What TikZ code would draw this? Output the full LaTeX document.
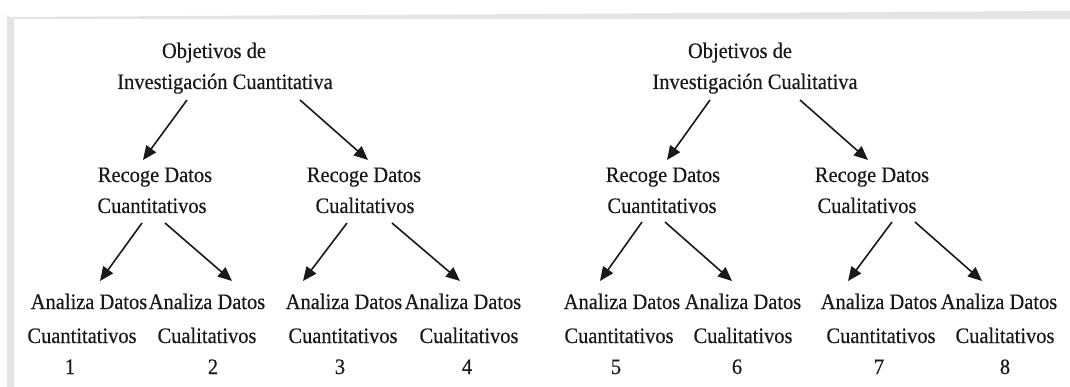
\documentclass[tikz,border=0pt]{standalone}
\usepackage{fontspec}
\setmainfont{Liberation Serif}[FakeStretch=0.93,FakeBold=0.4]
\usetikzlibrary{calc,arrows.meta}

\definecolor{framegray}{RGB}{228,228,228}
\definecolor{ink}{RGB}{25,25,25}

\tikzset{
  lbl/.style={anchor=base, inner sep=0pt, text=ink,
              font=\fontsize{22}{26}\selectfont},
  arr/.style={draw=ink, line width=1.6pt,
              -{Triangle[length=14pt,width=12pt]}}
}

\begin{document}
\begin{tikzpicture}[x=1pt,y=-1pt]
  % canvas and window frame
  \fill[white] (0,0) rectangle (1070,387);
  \useasboundingbox (0,0) rectangle (1070,387);
  \fill[framegray] (7,387) -- (7,14) arc[start angle=180,end angle=90,radius=3]
        -- (1070,11) -- (1070,19) -- (14,19) -- (14,387) -- cycle;

  % ---- quantitative research tree ----
  \node[lbl] (q1a) at (214,58) {Objetivos de};
  \node[lbl] (q1b) at (225,89) {Investigación Cuantitativa};

  \node[lbl] (q2a) at (155,182) {Recoge Datos};
  \node[lbl] (q2b) at (152,213) {Cuantitativos};
  \node[lbl] (q3a) at (364,182) {Recoge Datos};
  \node[lbl] (q3b) at (365,213) {Cualitativos};

  \node[lbl] (l1a) at (89,309)  {Analiza Datos};
  \node[lbl] (l1b) at (82,343)  {Cuantitativos};
  \node[lbl] (l1c) at (70,374)  {1};
  \node[lbl] (l2a) at (207,309) {Analiza Datos};
  \node[lbl] (l2b) at (207,343) {Cualitativos};
  \node[lbl] (l2c) at (213,374) {2};
  \node[lbl] (l3a) at (344,309) {Analiza Datos};
  \node[lbl] (l3b) at (343,343) {Cuantitativos};
  \node[lbl] (l3c) at (340,374) {3};
  \node[lbl] (l4a) at (463,309) {Analiza Datos};
  \node[lbl] (l4b) at (469,343) {Cualitativos};
  \node[lbl] (l4c) at (467,374) {4};

  % ---- qualitative research tree ----
  \node[lbl] (r1a) at (740,58) {Objetivos de};
  \node[lbl] (r1b) at (755,89) {Investigación Cualitativa};

  \node[lbl] (r2a) at (663,182) {Recoge Datos};
  \node[lbl] (r2b) at (662,213) {Cuantitativos};
  \node[lbl] (r3a) at (872,182) {Recoge Datos};
  \node[lbl] (r3b) at (867,213) {Cualitativos};

  \node[lbl] (l5a) at (622,309)  {Analiza Datos};
  \node[lbl] (l5b) at (619,343)  {Cuantitativos};
  \node[lbl] (l5c) at (616,374)  {5};
  \node[lbl] (l6a) at (743,309)  {Analiza Datos};
  \node[lbl] (l6b) at (743,343)  {Cualitativos};
  \node[lbl] (l6c) at (737,374)  {6};
  \node[lbl] (l7a) at (879,309)  {Analiza Datos};
  \node[lbl] (l7b) at (881,343)  {Cuantitativos};
  \node[lbl] (l7c) at (879,374)  {7};
  \node[lbl] (l8a) at (999,309)  {Analiza Datos};
  \node[lbl] (l8b) at (1005,343) {Cualitativos};
  \node[lbl] (l8c) at (1005,374) {8};

  % ---- arrows, quantitative tree ----
  \draw[arr] ($(q1b.base)+(-38,11)$) -- ($(q2a.base)+(-12,-22)$);
  \draw[arr] ($(q1b.base)+(75,11)$)  -- ($(q3a.base)+(4,-22)$);
  \draw[arr] ($(q2b.base)+(-10,10)$) -- ($(l1a.base)+(11,-28)$);
  \draw[arr] ($(q2b.base)+(13,10)$)  -- ($(l2a.base)+(25,-28)$);
  \draw[arr] ($(q3b.base)+(-18,10)$) -- ($(l3a.base)+(-41,-28)$);
  \draw[arr] ($(q3b.base)+(27,10)$)  -- ($(l4a.base)+(-3,-28)$);

  % ---- arrows, qualitative tree ----
  \draw[arr] ($(r1b.base)+(-45,11)$) -- ($(r2a.base)+(4,-22)$);
  \draw[arr] ($(r1b.base)+(45,11)$)  -- ($(r3a.base)+(-4,-22)$);
  \draw[arr] ($(r2b.base)+(-20,9)$)  -- ($(l5a.base)+(-22,-28)$);
  \draw[arr] ($(r2b.base)+(3,9)$)    -- ($(l6a.base)+(-11,-28)$);
  \draw[arr] ($(r3b.base)+(25,9)$)   -- ($(l7a.base)+(-31,-28)$);
  \draw[arr] ($(r3b.base)+(48,9)$)   -- ($(l8a.base)+(-17,-28)$);
\end{tikzpicture}
\end{document}
